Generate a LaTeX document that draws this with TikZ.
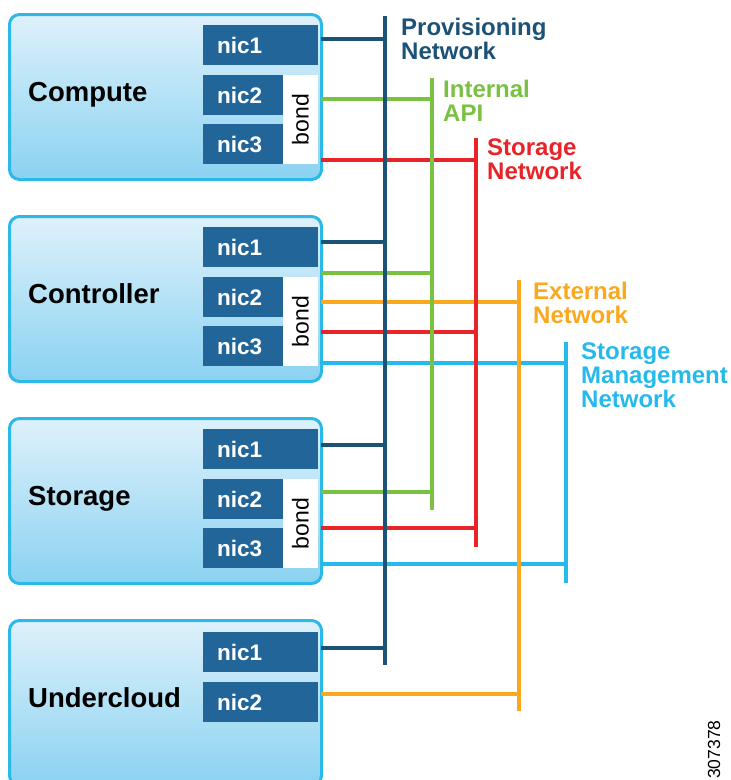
\documentclass[tikz,border=0pt]{standalone}
\usepackage{fontspec}
\setmainfont{Liberation Sans}
\definecolor{provblue}{RGB}{27,82,118}
\definecolor{nicblue}{RGB}{34,101,153}
\definecolor{apigreen}{RGB}{122,192,67}
\definecolor{storred}{RGB}{232,36,40}
\definecolor{extorange}{RGB}{250,168,30}
\definecolor{mgmtcyan}{RGB}{38,185,235}
\definecolor{boxedge}{RGB}{45,185,232}
\definecolor{boxtop}{RGB}{222,241,251}
\definecolor{boxbot}{RGB}{138,210,241}
\newcommand\nicfont{\bfseries\fontsize{22.5}{24}\selectfont}
\newcommand\hostfont{\bfseries\fontsize{27.5}{29}\selectfont}
\newcommand\netfont{\bfseries\fontsize{24}{24}\selectfont}
\newcommand\bondfont{\fontsize{23}{24}\selectfont}
\tikzset{
  host/.style={draw=boxedge, line width=3pt, rounded corners=10pt,
    top color=boxtop, bottom color=boxbot,
    minimum width=312pt, minimum height=165pt, inner sep=0pt, anchor=north west},
  nicwide/.style={fill=nicblue, text=white, font=\nicfont,
    minimum width=115pt, minimum height=40pt, inner sep=0pt,
    text width=87pt, align=left, anchor=north west},
  nicnarrow/.style={nicwide, minimum width=80pt, text width=52pt},
  bondbox/.style={fill=white, font=\bondfont, rotate=90,
    minimum width=89pt, minimum height=35pt, inner sep=0pt},
  hostlabel/.style={font=\hostfont, anchor=base west, inner sep=0pt},
  bus/.style={line width=4.3pt},
  link/.style={line width=3.6pt},
  netlabel/.style={font=\netfont, align=left, anchor=north west, inner sep=0pt},
}
\begin{document}
\begin{tikzpicture}[x=1pt, y=-1pt]
\useasboundingbox (0,0) rectangle (731,780);
\clip (0,0) rectangle (731,780);

% ---------------- hosts ----------------
% Compute
\node[host] (compute) at (8,13) {};
\node[hostlabel] (compute-lbl) at (28,101) {Compute};
\node[nicwide]   (compute-nic1) at (203,25)  {nic1};
\node[nicnarrow] (compute-nic2) at (203,75)  {nic2};
\node[nicnarrow] (compute-nic3) at (203,124) {nic3};
\node[bondbox]   (compute-bond) at (300.5,119.5) {bond};

% Controller
\node[host] (ctrl) at (8,215) {};
\node[hostlabel] (ctrl-lbl) at (28,303) {Controller};
\node[nicwide]   (ctrl-nic1) at (203,227) {nic1};
\node[nicnarrow] (ctrl-nic2) at (203,277) {nic2};
\node[nicnarrow] (ctrl-nic3) at (203,326) {nic3};
\node[bondbox]   (ctrl-bond) at (300.5,321.5) {bond};

% Storage
\node[host] (stor) at (8,417) {};
\node[hostlabel] (stor-lbl) at (28,505) {Storage};
\node[nicwide]   (stor-nic1) at (203,429) {nic1};
\node[nicnarrow] (stor-nic2) at (203,479) {nic2};
\node[nicnarrow] (stor-nic3) at (203,528) {nic3};
\node[bondbox]   (stor-bond) at (300.5,523.5) {bond};

% Undercloud
\node[host] (under) at (8,619) {};
\node[hostlabel] (under-lbl) at (28,707) {Undercloud};
\node[nicwide] (under-nic1) at (203,632) {nic1};
\node[nicwide] (under-nic2) at (203,682) {nic2};

% ---------------- network buses ----------------
\coordinate (prov-top) at (385,16);  \coordinate (prov-bot) at (385,665);
\coordinate (api-top)  at (432,78);  \coordinate (api-bot)  at (432,510);
\coordinate (sto-top)  at (476,138); \coordinate (sto-bot)  at (476,547);
\coordinate (ext-top)  at (519,280); \coordinate (ext-bot)  at (519,711);
\coordinate (mgt-top)  at (566,342); \coordinate (mgt-bot)  at (566,583);

% ports on the host edges
\coordinate (compute-p1) at (321,39);
\coordinate (compute-p2) at (321,99);
\coordinate (compute-p3) at (321,160);
\coordinate (ctrl-p1) at (321,242);
\coordinate (ctrl-p2) at (321,273);
\coordinate (ctrl-p3) at (321,302);
\coordinate (ctrl-p4) at (321,332);
\coordinate (ctrl-p5) at (321,363);
\coordinate (stor-p1) at (321,445);
\coordinate (stor-p2) at (321,492);
\coordinate (stor-p3) at (321,528);
\coordinate (stor-p4) at (321,564);
\coordinate (under-p1) at (321,648);
\coordinate (under-p2) at (321,694);

% host links
\draw[link, provblue] (compute-p1) -- (compute-p1 -| prov-top);
\draw[link, apigreen] (compute-p2) -- (compute-p2 -| api-top);
\draw[link, storred]  (compute-p3) -- (compute-p3 -| sto-top);

\draw[link, provblue]  (ctrl-p1) -- (ctrl-p1 -| prov-top);
\draw[link, apigreen]  (ctrl-p2) -- (ctrl-p2 -| api-top);
\draw[link, extorange] (ctrl-p3) -- (ctrl-p3 -| ext-top);
\draw[link, storred]   (ctrl-p4) -- (ctrl-p4 -| sto-top);
\draw[link, mgmtcyan]  (ctrl-p5) -- (ctrl-p5 -| mgt-top);

\draw[link, provblue] (stor-p1) -- (stor-p1 -| prov-top);
\draw[link, apigreen] (stor-p2) -- (stor-p2 -| api-top);
\draw[link, storred]  (stor-p3) -- (stor-p3 -| sto-top);
\draw[link, mgmtcyan] (stor-p4) -- (stor-p4 -| mgt-top);

\draw[link, provblue]  (under-p1) -- (under-p1 -| prov-top);
\draw[link, extorange] (under-p2) -- (under-p2 -| ext-top);

% buses drawn over the links
\draw[bus, provblue]  (prov-top) -- (prov-bot);
\draw[bus, apigreen]  (api-top)  -- (api-bot);
\draw[bus, storred]   (sto-top)  -- (sto-bot);
\draw[bus, extorange] (ext-top)  -- (ext-bot);
\draw[bus, mgmtcyan]  (mgt-top)  -- (mgt-bot);

% ---------------- network labels ----------------
\node[netlabel, text=provblue]  (prov-lbl) at (401,18)  {Provisioning\\Network};
\node[netlabel, text=apigreen]  (api-lbl)  at (443,80)  {Internal\\API};
\node[netlabel, text=storred]   (sto-lbl)  at (487,139) {Storage\\Network};
\node[netlabel, text=extorange] (ext-lbl)  at (533,282) {External\\Network};
\node[netlabel, text=mgmtcyan]  (mgt-lbl)  at (581,343) {Storage\\Management\\Network};

% figure number
\node[rotate=90, anchor=west, inner sep=0pt, font=\fontsize{17.5}{20}\selectfont]
  (fignum) at (714,779) {307378};
\end{tikzpicture}
\end{document}
